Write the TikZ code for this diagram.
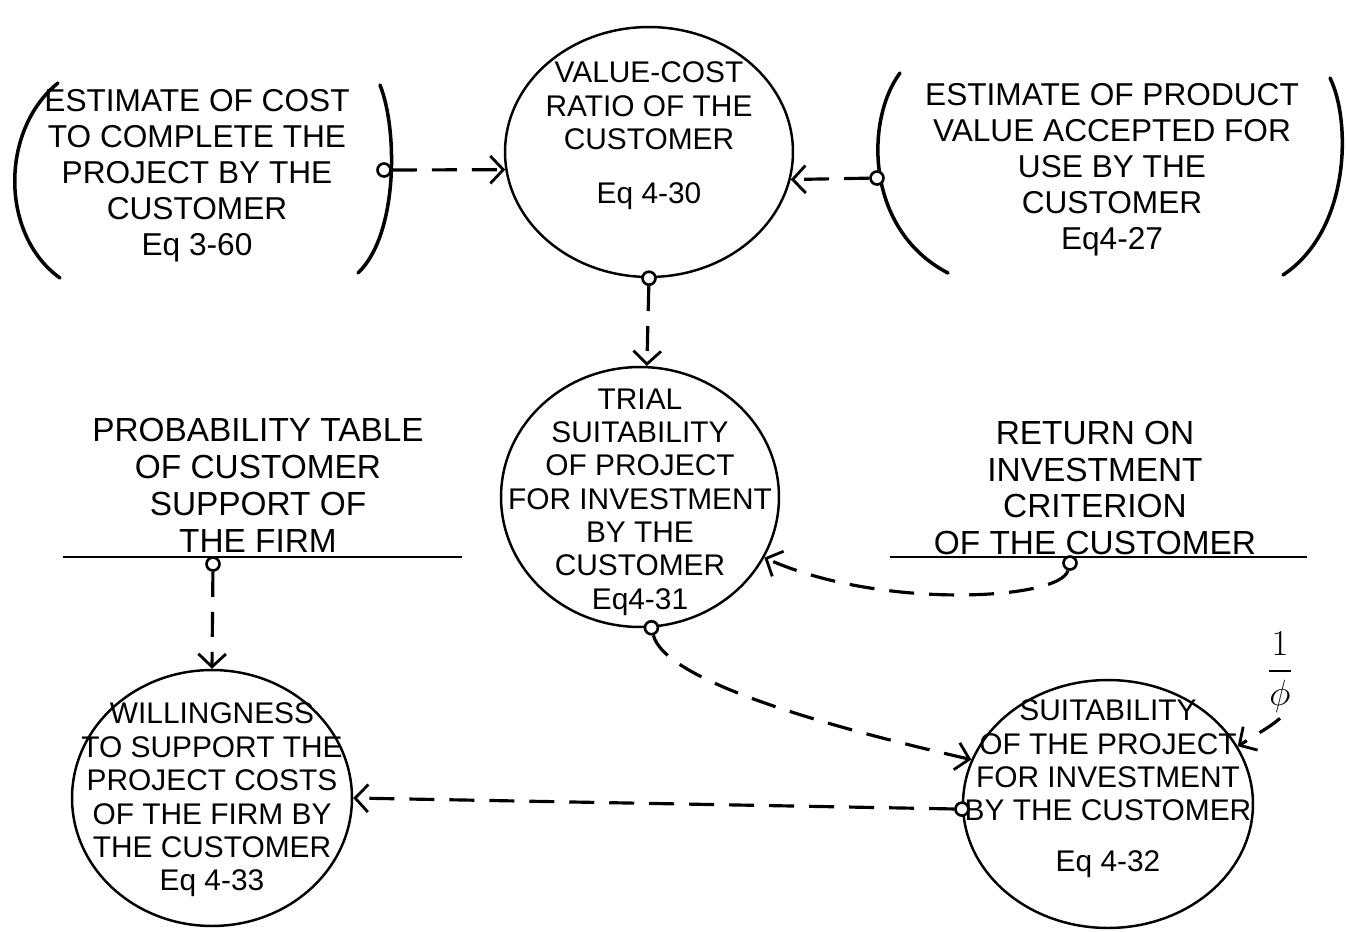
\documentclass[tikz,border=0pt]{standalone}
\usepackage{amsmath}
\usepackage{fontspec}
\setmainfont{Liberation Sans}
\usepackage{tikz}
\usetikzlibrary{arrows.meta, shapes.geometric}

\tikzset{
    bubble/.style={ellipse, draw, line width=1.4pt, inner sep=0pt},
    bubtext/.style={align=center, font=\fontsize{17}{19}\selectfont},
    boxtext/.style={align=center, font=\fontsize{18}{20.5}\selectfont},
    tabtext/.style={align=center, font=\fontsize{19}{21}\selectfont},
    origin/.style={circle, draw, line width=1.5pt, fill=white, inner sep=0pt, minimum size=2.6mm},
    flow/.style={line width=1.8pt, dash pattern=on 5mm off 3mm,
        -{Straight Barb[length=2.6mm, width=5.5mm, line width=1.6pt]}},
    paren/.style={line width=2pt, line cap=round},
    tabline/.style={line width=1.2pt}
}

\begin{document}
\begin{tikzpicture}[x=0.02cm, y=-0.02cm]
    \useasboundingbox (0,0) rectangle (1347,931);

    % =================================================================
    % 1. CIRCLES (COMPUTED QUANTITIES)
    % =================================================================
    \node[bubble, minimum width=5.76cm, minimum height=5.0cm] (value) at (649,152) {};
    \node[bubtext] (valuetxt) at (649,136) {VALUE-COST\\RATIO OF THE\\CUSTOMER\\[12pt]Eq 4-30};

    \node[bubble, minimum width=5.56cm, minimum height=5.2cm] (trial) at (640,497) {};
    \node[bubtext] (trialtxt) at (640,502) {TRIAL\\SUITABILITY\\OF PROJECT\\FOR INVESTMENT\\BY THE\\CUSTOMER\\Eq4-31};

    \node[bubble, minimum width=5.6cm, minimum height=5.12cm] (willing) at (212,798) {};
    \node[bubtext] (willingtxt) at (212,800) {WILLINGNESS\\TO SUPPORT THE\\PROJECT COSTS\\OF THE FIRM BY\\THE CUSTOMER\\Eq 4-33};

    \node[bubble, minimum width=5.8cm, minimum height=4.96cm] (suit) at (1108,804) {};
    \node[bubtext] (suittxt) at (1108,789) {SUITABILITY\\OF THE PROJECT\\FOR INVESTMENT\\BY THE CUSTOMER\\[10pt]Eq 4-32};

    % =================================================================
    % 2. BRACKETED ESTIMATES
    % =================================================================
    \draw[paren] (58,83) .. controls (0,130) and (0,235) .. (60,278);
    \draw[paren] (380,85) .. controls (398,130) and (398,235) .. (358,273);
    \node[boxtext] (costtxt) at (197,176) {ESTIMATE OF COST\\TO COMPLETE THE\\PROJECT BY THE\\CUSTOMER\\Eq 3-60};

    \draw[paren] (900,73) .. controls (865,120) and (865,230) .. (948,273);
    \draw[paren] (1330,78) .. controls (1351,120) and (1351,230) .. (1283,275);
    \node[boxtext] (prodtxt) at (1112,170) {ESTIMATE OF PRODUCT\\VALUE ACCEPTED FOR\\USE BY THE\\CUSTOMER\\Eq4-27};

    % =================================================================
    % 3. TABLES (TEXT OVER A LINE)
    % =================================================================
    \node[tabtext] (probtxt) at (258,485) {PROBABILITY TABLE\\OF CUSTOMER\\SUPPORT OF\\THE FIRM};
    \draw[tabline] (63,557) -- (462,557);

    \node[tabtext] (roitxt) at (1095,488) {RETURN ON\\INVESTMENT\\CRITERION\\OF THE CUSTOMER};
    \draw[tabline] (890,557) -- (1307,557);

    \node[font=\fontsize{20}{24}\selectfont] (phi) at (1280,672) {$\dfrac{1}{\phi}$};

    % =================================================================
    % 4. ORIGIN MARKERS
    % =================================================================
    \node[origin] (costorig) at (384,170) {};
    \node[origin] (prodorig) at (877,178) {};
    \node[origin] (valueorig) at (value.south) {};
    \node[origin] (trialorig) at (trial.275) {};
    \node[origin] (probaborig) at (213,564) {};
    \node[origin] (roiorig) at (1070,563) {};
    \node[origin] (suitorig) at (suit.182) {};

    % =================================================================
    % 5. DASHED FLOWS
    % =================================================================
    \draw[flow] (costorig) -- (value.187);
    \draw[flow] (prodorig) -- (value.349);
    \draw[flow] (valueorig) -- (trial.87);
    \draw[flow] (roiorig) .. controls (1060,600) and (880,610) .. (trial.334);
    \draw[flow] (trialorig) .. controls (665,680) and (820,725) .. (suit.162);
    \draw[flow] (phi.south) .. controls (1272,725) .. (suit.24);
    \draw[flow] (probaborig) -- (willing.north);
    \draw[flow] (suitorig) -- (willing.east);

\end{tikzpicture}
\end{document}
